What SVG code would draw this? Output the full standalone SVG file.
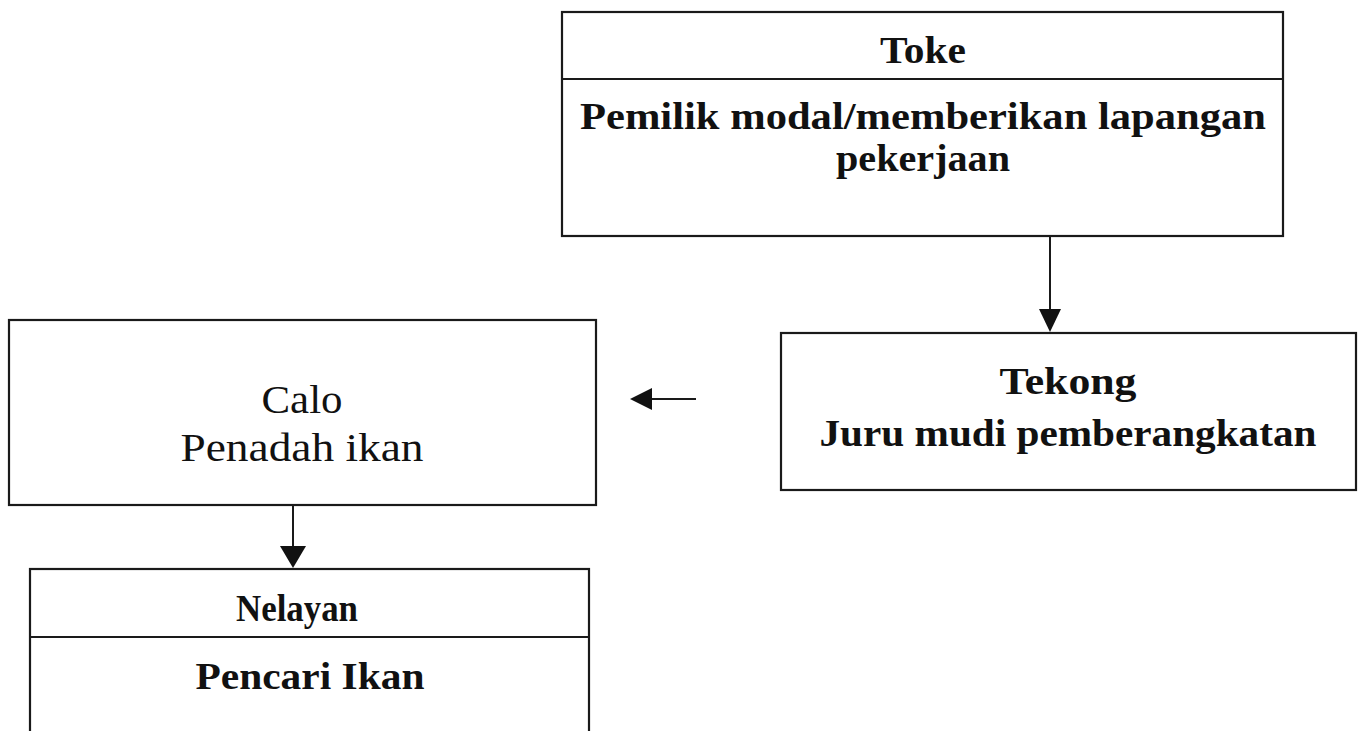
<svg xmlns="http://www.w3.org/2000/svg" width="1363" height="731" viewBox="0 0 1363 731">
<style>
.box{fill:none;stroke:#1a1a1a;stroke-width:2.2}
.ln{stroke:#1a1a1a;stroke-width:2}
.hd{fill:#111}
.b{font-family:"Liberation Serif","Times New Roman",serif;font-weight:bold;font-size:38px;fill:#111;text-anchor:middle}
.r{font-family:"Liberation Serif","Times New Roman",serif;font-size:40px;fill:#111;text-anchor:middle}
</style>
<rect width="1363" height="731" fill="#fff"/>
<g id="toke">
<rect class="box" x="562" y="12" width="721" height="224"/>
<line class="ln" x1="562" y1="79" x2="1283" y2="79"/>
<text class="b" x="923" y="63" textLength="86" lengthAdjust="spacingAndGlyphs">Toke</text>
<text class="b" x="923" y="129" textLength="686" lengthAdjust="spacingAndGlyphs">Pemilik modal/memberikan lapangan</text>
<text class="b" x="923" y="171" textLength="174" lengthAdjust="spacingAndGlyphs">pekerjaan</text>
</g>
<g id="tekong">
<rect class="box" x="781" y="333" width="575" height="157"/>
<text class="b" x="1068" y="394" textLength="137" lengthAdjust="spacingAndGlyphs">Tekong</text>
<text class="b" x="1068" y="446" textLength="497" lengthAdjust="spacingAndGlyphs">Juru mudi pemberangkatan</text>
</g>
<g id="calo">
<rect class="box" x="9" y="320" width="587" height="185"/>
<text class="r" x="302" y="413" textLength="81" lengthAdjust="spacingAndGlyphs">Calo</text>
<text class="r" x="302" y="461" textLength="243" lengthAdjust="spacingAndGlyphs">Penadah ikan</text>
</g>
<g id="nelayan">
<rect class="box" x="30" y="569" width="559" height="200"/>
<line class="ln" x1="30" y1="637" x2="589" y2="637"/>
<text class="b" x="297" y="621" textLength="122" lengthAdjust="spacingAndGlyphs">Nelayan</text>
<text class="b" x="310" y="689" textLength="229" lengthAdjust="spacingAndGlyphs">Pencari Ikan</text>
</g>
<g id="connectors">
<line class="ln" x1="1050" y1="236" x2="1050" y2="312"/>
<polygon class="hd" points="1039,309 1061,309 1050,332"/>
<line class="ln" x1="696" y1="399" x2="648" y2="399"/>
<polygon class="hd" points="652,388 652,410 630,399"/>
<line class="ln" x1="293" y1="505" x2="293" y2="548"/>
<polygon class="hd" points="280,546 306,546 293,568"/>
</g>
</svg>
